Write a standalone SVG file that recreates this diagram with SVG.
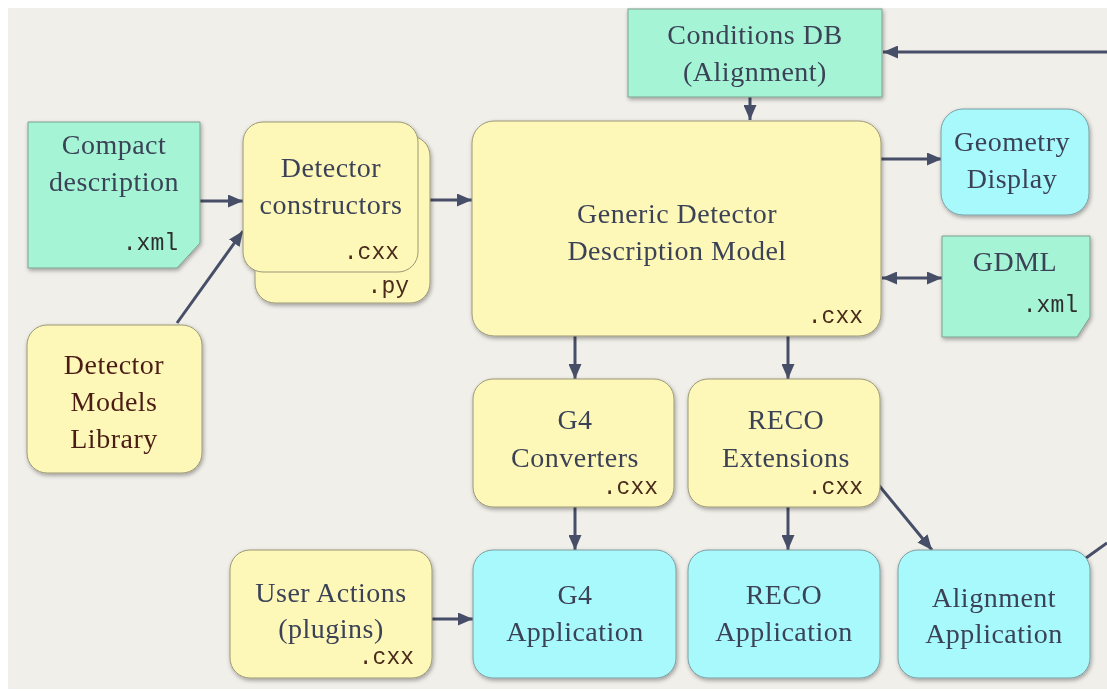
<svg xmlns="http://www.w3.org/2000/svg" width="1107" height="691" viewBox="0 0 1107 691">
  <style>
    .serif { font-family: "Liberation Serif", "Times New Roman", serif; font-size: 28px; letter-spacing: 0.5px; fill: #3b4257; text-anchor: middle; }
    .brown { fill: #4b1d14; }
    .mono { font-family: "Liberation Mono", "Courier New", monospace; font-size: 23px; text-anchor: end; }
    .cxx { fill: #4a2c1a; }
    .xml { fill: #2e2e2e; }
    .yellow { fill: #fdf7b8; stroke: #9c9877; stroke-width: 1; }
    .green { fill: #a4f4d5; stroke: #7f9f90; stroke-width: 1; }
    .cyan { fill: #a8f9fc; stroke: #7c9ea2; stroke-width: 1; }
    .conn { stroke: #474f68; stroke-width: 3; fill: none; }
  </style>
  <defs>
    <filter id="shadow" x="-10%" y="-10%" width="120%" height="125%">
      <feDropShadow dx="1" dy="2" stdDeviation="2" flood-color="#000" flood-opacity="0.35"/>
    </filter>
    <marker id="arrow" markerUnits="userSpaceOnUse" markerWidth="15" markerHeight="13" refX="15" refY="6.5" orient="auto-start-reverse">
      <path d="M0,0 L15,6.5 L0,13 Z" fill="#474f68"/>
    </marker>
  </defs>

  <!-- page background -->
  <rect x="0" y="0" width="1107" height="691" fill="#ffffff"/>
  <rect x="8" y="8" width="1099" height="681" fill="#f1efea"/>

  <!-- connectors -->
  <g id="connectors">
    <line class="conn" x1="200" y1="201" x2="243" y2="201" marker-end="url(#arrow)"/>
    <line class="conn" x1="177" y1="323" x2="243" y2="231" marker-end="url(#arrow)"/>
    <line class="conn" x1="418" y1="200" x2="472" y2="200" marker-end="url(#arrow)"/>
    <line class="conn" x1="1107" y1="52" x2="883" y2="52" marker-end="url(#arrow)"/>
    <line class="conn" x1="750" y1="97" x2="750" y2="120" marker-end="url(#arrow)"/>
    <line class="conn" x1="881" y1="159" x2="942" y2="159" marker-end="url(#arrow)"/>
    <line class="conn" x1="882" y1="278" x2="942" y2="278" marker-start="url(#arrow)" marker-end="url(#arrow)"/>
    <line class="conn" x1="575" y1="336" x2="575" y2="379" marker-end="url(#arrow)"/>
    <line class="conn" x1="788" y1="336" x2="788" y2="379" marker-end="url(#arrow)"/>
    <line class="conn" x1="575" y1="507" x2="575" y2="550" marker-end="url(#arrow)"/>
    <line class="conn" x1="788" y1="507" x2="788" y2="550" marker-end="url(#arrow)"/>
    <line class="conn" x1="877" y1="483" x2="932" y2="550" marker-end="url(#arrow)"/>
    <line class="conn" x1="432" y1="619" x2="473" y2="619" marker-end="url(#arrow)"/>
    <line class="conn" x1="1086" y1="558" x2="1107" y2="543"/>
  </g>

  <!-- Compact description -->
  <g id="compact-description" filter="url(#shadow)">
    <path class="green" d="M28,122 H200 V243 L177,268 H28 Z"/>
    <text class="serif" x="114" y="154">Compact</text>
    <text class="serif" x="114" y="191">description</text>
    <text class="mono xml" x="178" y="250">.xml</text>
  </g>

  <!-- Detector constructors (stacked .cxx / .py) -->
  <g id="detector-constructors" filter="url(#shadow)">
    <rect class="yellow" x="255" y="136" width="175" height="167" rx="20"/>
    <text class="mono cxx" x="409" y="293">.py</text>
    <rect class="yellow" x="243" y="122" width="175" height="150" rx="20"/>
    <text class="serif" x="331" y="177">Detector</text>
    <text class="serif" x="331" y="214">constructors</text>
    <text class="mono cxx" x="399" y="259">.cxx</text>
  </g>

  <!-- Detector Models Library -->
  <g id="detector-models-library" filter="url(#shadow)">
    <rect class="yellow" x="27" y="325" width="175" height="148" rx="20"/>
    <text class="serif brown" x="114" y="374">Detector</text>
    <text class="serif brown" x="114" y="411">Models</text>
    <text class="serif brown" x="114" y="448">Library</text>
  </g>

  <!-- Conditions DB -->
  <g id="conditions-db" filter="url(#shadow)">
    <rect class="green" x="628" y="9" width="254" height="88"/>
    <text class="serif" x="755" y="44">Conditions DB</text>
    <text class="serif" x="755" y="81">(Alignment)</text>
  </g>

  <!-- Generic Detector Description Model -->
  <g id="generic-model" filter="url(#shadow)">
    <rect class="yellow" x="472" y="121" width="409" height="215" rx="22"/>
    <text class="serif" x="677" y="223">Generic Detector</text>
    <text class="serif" x="677" y="260">Description Model</text>
    <text class="mono cxx" x="863" y="323">.cxx</text>
  </g>

  <!-- Geometry Display -->
  <g id="geometry-display" filter="url(#shadow)">
    <rect class="cyan" x="941" y="109" width="148" height="106" rx="22"/>
    <text class="serif" x="1012" y="151">Geometry</text>
    <text class="serif" x="1012" y="188">Display</text>
  </g>

  <!-- GDML -->
  <g id="gdml" filter="url(#shadow)">
    <path class="green" d="M942,236 H1090 V317 L1077,337 H942 Z"/>
    <text class="serif" x="1015" y="271">GDML</text>
    <text class="mono xml" x="1078" y="312">.xml</text>
  </g>

  <!-- G4 Converters -->
  <g id="g4-converters" filter="url(#shadow)">
    <rect class="yellow" x="473" y="379" width="201" height="128" rx="20"/>
    <text class="serif" x="575" y="429">G4</text>
    <text class="serif" x="575" y="467">Converters</text>
    <text class="mono cxx" x="658" y="494">.cxx</text>
  </g>

  <!-- RECO Extensions -->
  <g id="reco-extensions" filter="url(#shadow)">
    <rect class="yellow" x="688" y="379" width="192" height="128" rx="20"/>
    <text class="serif" x="786" y="429">RECO</text>
    <text class="serif" x="786" y="467">Extensions</text>
    <text class="mono cxx" x="863" y="494">.cxx</text>
  </g>

  <!-- User Actions -->
  <g id="user-actions" filter="url(#shadow)">
    <rect class="yellow" x="230" y="550" width="202" height="128" rx="20"/>
    <text class="serif" x="331" y="602">User Actions</text>
    <text class="serif" x="331" y="638">(plugins)</text>
    <text class="mono cxx" x="414" y="664">.cxx</text>
  </g>

  <!-- G4 Application -->
  <g id="g4-application" filter="url(#shadow)">
    <rect class="cyan" x="473" y="550" width="203" height="128" rx="20"/>
    <text class="serif" x="575" y="604">G4</text>
    <text class="serif" x="575" y="641">Application</text>
  </g>

  <!-- RECO Application -->
  <g id="reco-application" filter="url(#shadow)">
    <rect class="cyan" x="688" y="550" width="192" height="128" rx="20"/>
    <text class="serif" x="784" y="604">RECO</text>
    <text class="serif" x="784" y="641">Application</text>
  </g>

  <!-- Alignment Application -->
  <g id="alignment-application" filter="url(#shadow)">
    <rect class="cyan" x="898" y="550" width="192" height="128" rx="20"/>
    <text class="serif" x="994" y="607">Alignment</text>
    <text class="serif" x="994" y="643">Application</text>
  </g>
</svg>
